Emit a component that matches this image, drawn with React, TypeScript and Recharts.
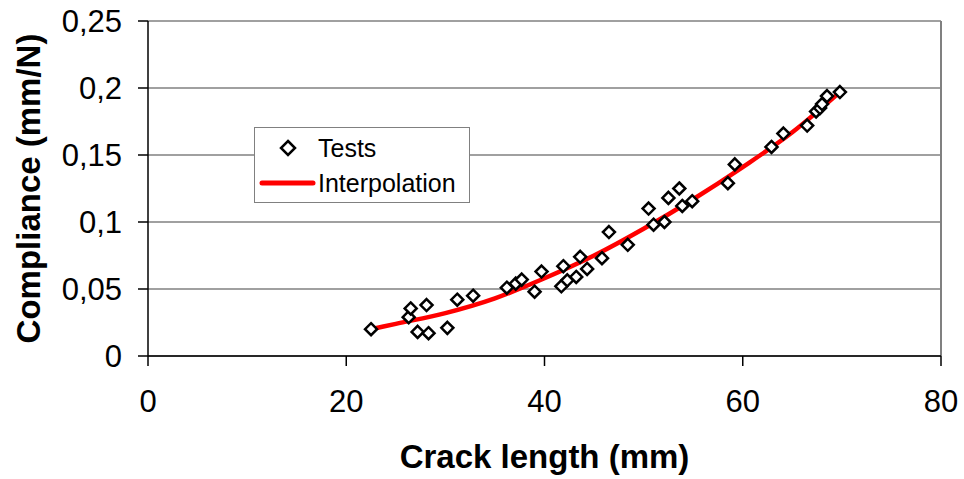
import {
  ComposedChart,
  Scatter,
  Line,
  XAxis,
  YAxis,
  CartesianGrid,
  ReferenceLine,
} from 'recharts';

// measured points
const testLength = [
  22.5, 26.3, 26.5, 27.2, 28.1, 28.3, 30.2, 31.2, 32.8, 36.2, 37.1, 37.7, 39.0, 39.7,
  41.7, 41.9, 42.3, 43.2, 43.6, 44.3, 45.8, 46.5, 48.4, 50.5, 51.0, 52.1, 52.5, 53.6,
  53.9, 54.9, 58.5, 59.2, 62.9, 64.1, 66.5, 67.4, 67.8, 68.0, 68.5, 69.8,
];
const testCompliance = [
  0.02, 0.029, 0.0355, 0.018, 0.038, 0.017, 0.021, 0.042, 0.045, 0.051, 0.054, 0.057, 0.048, 0.063,
  0.052, 0.067, 0.0565, 0.059, 0.074, 0.065, 0.073, 0.0925, 0.083, 0.11, 0.098, 0.1, 0.118, 0.125,
  0.112, 0.1155, 0.129, 0.143, 0.156, 0.166, 0.172, 0.1825, 0.185, 0.188, 0.194, 0.197,
];

// fitted curve
const curveLength = [22.5, 25, 30, 35, 40, 45, 50, 55, 60, 65, 69.8];
const curveCompliance = [0.02, 0.024, 0.032, 0.043, 0.058, 0.075, 0.095, 0.117, 0.141, 0.167, 0.197];

const xTicks = [0, 20, 40, 60, 80];
const yTicks = [0, 0.05, 0.1, 0.15, 0.2, 0.25];

const tests = testLength.map((x, i) => ({ x, y: testCompliance[i] }));
const curve = curveLength.map((x, i) => ({ x, y: curveCompliance[i] }));

const FONT = '"Liberation Sans", Arial, sans-serif';
const comma = (v: number) => String(v).replace('.', ',');

const Diamond = (props: any) => {
  const { cx, cy } = props;
  const r = 6;
  return (
    <path
      d={`M${cx},${cy - r}L${cx + r},${cy}L${cx},${cy + r}L${cx - r},${cy}Z`}
      fill="#fff"
      stroke="#000"
      strokeWidth={2.5}
    />
  );
};

const LegendBox = () => (
  <div
    style={{
      position: 'absolute',
      left: 254,
      top: 127,
      width: 216,
      height: 76,
      border: '1.5px solid #808080',
      background: '#fff',
      fontFamily: FONT,
      fontSize: 25,
      color: '#000',
      boxSizing: 'border-box',
    }}
  >
    <div style={{ display: 'flex', alignItems: 'center', height: 40 }}>
      <svg width={63} height={20}>
        <path d="M33,3L40,10L33,17L26,10Z" fill="#fff" stroke="#000" strokeWidth={2.5} />
      </svg>
      <span>Tests</span>
    </div>
    <div style={{ display: 'flex', alignItems: 'center', height: 30 }}>
      <svg width={63} height={20}>
        <line x1={7} y1={10} x2={58} y2={10} stroke="#ff0000" strokeWidth={5} strokeLinecap="round" />
      </svg>
      <span>Interpolation</span>
    </div>
  </div>
);

const YTitle = (props: any) => {
  const { viewBox } = props;
  const x = viewBox.x + 28;
  const y = viewBox.y + viewBox.height / 2;
  return (
    <text
      x={x}
      y={y}
      transform={`rotate(-90, ${x}, ${y})`}
      textAnchor="middle"
      dominantBaseline="central"
      fontFamily={FONT}
      fontWeight="bold"
      fontSize={33}
      fill="#000"
    >
      Compliance (mm/N)
    </text>
  );
};

const XTitle = (props: any) => {
  const { viewBox } = props;
  return (
    <text
      x={viewBox.x + viewBox.width / 2}
      y={viewBox.y + 112}
      textAnchor="middle"
      fontFamily={FONT}
      fontWeight="bold"
      fontSize={33}
      fill="#000"
    >
      Crack length (mm)
    </text>
  );
};

export default function App() {
  return (
    <div style={{ position: 'absolute', left: 0, top: 0, width: 964, height: 479, background: '#fff' }}>
      <ComposedChart width={964} height={479} margin={{ top: 21, right: 23, bottom: 0, left: 0 }}>
        <CartesianGrid vertical={false} stroke="#808080" strokeWidth={1.5} />
        <XAxis
          type="number"
          dataKey="x"
          domain={[0, 80]}
          ticks={xTicks}
          height={123}
          tickSize={10}
          tickMargin={24}
          stroke="#000"
          strokeWidth={1.5}
          tick={{ fill: '#000', fontSize: 31, fontFamily: FONT }}
          label={<XTitle />}
        />
        <YAxis
          type="number"
          dataKey="y"
          domain={[0, 0.25]}
          ticks={yTicks}
          width={148}
          tickSize={10}
          tickMargin={16}
          stroke="#000"
          strokeWidth={1.5}
          tickFormatter={comma}
          tick={{ fill: '#000', fontSize: 31, fontFamily: FONT }}
          label={<YTitle />}
        />
        <ReferenceLine x={80} stroke="#808080" strokeWidth={2} />
        <Line
          data={curve}
          dataKey="y"
          type="monotone"
          stroke="#ff0000"
          strokeWidth={4.5}
          dot={false}
          isAnimationActive={false}
        />
        <Scatter data={tests} dataKey="y" shape={<Diamond />} isAnimationActive={false} />
      </ComposedChart>
      <LegendBox />
    </div>
  );
}
